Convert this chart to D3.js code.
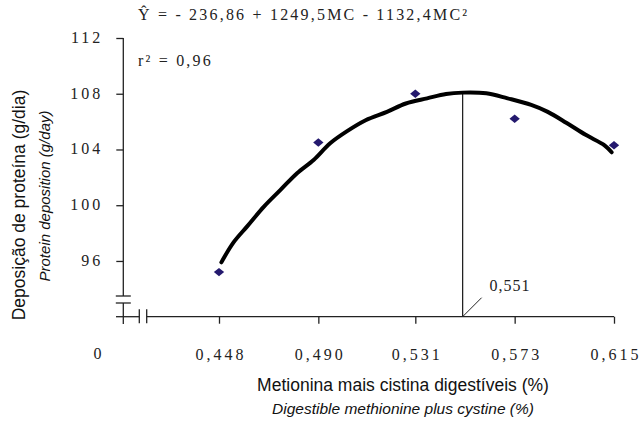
<!DOCTYPE html>
<html>
<head>
<meta charset="utf-8">
<script src="https://cdn.jsdelivr.net/npm/d3@7"></script>
<style>
  body { margin: 0; background: #fff; }
  svg { display: block; }
  .num { font-family: "Liberation Serif", serif; font-size: 16px; letter-spacing: 3px; fill: #222; }
  .ttl { font-family: "Liberation Sans", Arial, sans-serif; fill: #111; }
</style>
</head>
<body>
<div id="chart"></div>
<script>
const xTicks = [0.448, 0.490, 0.531, 0.573, 0.615]
const yTicks = [96, 100, 104, 108, 112]
const obsX = [0.448, 0.490, 0.531, 0.573, 0.615]
const obsY = [95.2, 104.5, 108.0, 106.2, 104.3]

// fitted curve
const fitX = [0.449, 0.454, 0.460, 0.467, 0.474, 0.481, 0.488, 0.495, 0.502, 0.510, 0.519, 0.527, 0.536, 0.544, 0.551, 0.561, 0.570, 0.580, 0.587, 0.595, 0.603, 0.611, 0.614]
const fitY = [95.9, 97.3, 98.5, 99.9, 101.1, 102.3, 103.25, 104.45, 105.3, 106.1, 106.7, 107.3, 107.67, 107.98, 108.08, 108.03, 107.67, 107.2, 106.7, 105.9, 105.05, 104.3, 103.8]

const optimumX = 0.551
const optimumY = 108.05
const equation = "Ŷ = - 236,86 + 1249,5MC - 1132,4MC²"
const r2Text = "r² = 0,96"

const width = 640, height = 422

const x = d3.scaleLinear().domain([0.448, 0.615]).range([219, 614])
const y = d3.scaleLinear().domain([92, 112]).range([316.7, 38])

const comma = v => String(v).replace(".", ",")
const fmt3 = v => d3.format(".3f")(v).replace(".", ",")

const svg = d3.select("#chart").append("svg")
  .attr("width", width)
  .attr("height", height)

const axisX = 123.3            // y axis position
const baseY = y(92)            // x axis position
const ink = "#222"

// y axis
const gy = svg.append("g")
  .attr("transform", `translate(${axisX},0)`)
  .call(d3.axisLeft(y).tickValues(yTicks).tickSize(7).tickPadding(16).tickFormat(d => d))
gy.select(".domain").remove()
gy.selectAll(".tick line").attr("stroke", ink).attr("stroke-width", 1.3)
gy.selectAll(".tick text").attr("class", "num").attr("dx", "3px").attr("dy", "0.28em")
  .attr("font-family", null).attr("font-size", null)

// y axis line with break
svg.append("line").attr("x1", axisX).attr("x2", axisX)
  .attr("y1", y(112)).attr("y2", baseY - 20.7)
  .attr("stroke", ink).attr("stroke-width", 1.3)
svg.append("line").attr("x1", axisX).attr("x2", axisX)
  .attr("y1", baseY - 13.7).attr("y2", baseY + 7.3)
  .attr("stroke", ink).attr("stroke-width", 1.3)
;[baseY - 20.7, baseY - 13.7].forEach(yy => {
  svg.append("line").attr("x1", axisX - 7.5).attr("x2", axisX + 7.5)
    .attr("y1", yy).attr("y2", yy)
    .attr("stroke", ink).attr("stroke-width", 1.3)
})

// x axis
const gx = svg.append("g")
  .attr("transform", `translate(0,${baseY})`)
  .call(d3.axisBottom(x).tickValues(xTicks).tickSize(7).tickPadding(25).tickFormat(fmt3))
gx.select(".domain").remove()
gx.selectAll(".tick line").attr("stroke", ink).attr("stroke-width", 1.3)
gx.selectAll(".tick text").attr("class", "num").attr("dx", "1.5px")
  .attr("font-family", null).attr("font-size", null)

// x axis line with break
const brk1 = axisX + 16, brk2 = axisX + 23.4
svg.append("line").attr("x1", axisX - 7.3).attr("x2", brk1)
  .attr("y1", baseY).attr("y2", baseY)
  .attr("stroke", ink).attr("stroke-width", 1.3)
svg.append("line").attr("x1", brk2).attr("x2", x(0.615))
  .attr("y1", baseY).attr("y2", baseY)
  .attr("stroke", ink).attr("stroke-width", 1.3)
;[brk1, brk2].forEach(xx => {
  svg.append("line").attr("x1", xx).attr("x2", xx)
    .attr("y1", baseY - 7.5).attr("y2", baseY + 6.5)
    .attr("stroke", ink).attr("stroke-width", 1.3)
})

// the "0" under the origin
svg.append("text").attr("class", "num")
  .attr("x", 99).attr("y", 359).attr("text-anchor", "middle")
  .text("0")

// optimum line and label
svg.append("line")
  .attr("x1", x(optimumX)).attr("x2", x(optimumX))
  .attr("y1", baseY).attr("y2", y(optimumY))
  .attr("stroke", ink).attr("stroke-width", 1.3)
svg.append("line")
  .attr("x1", x(optimumX)).attr("y1", baseY)
  .attr("x2", x(optimumX) + 19).attr("y2", baseY - 19)
  .attr("stroke", ink).attr("stroke-width", 1)
svg.append("text").attr("class", "num")
  .style("letter-spacing", "1px")
  .attr("x", x(optimumX) + 27).attr("y", 291)
  .text(comma(optimumX))

// fitted curve
const fit = fitX.map((v, i) => [v, fitY[i]])
svg.append("path")
  .datum(fit)
  .attr("fill", "none")
  .attr("stroke", "#000")
  .attr("stroke-width", 4)
  .attr("stroke-linecap", "round")
  .attr("d", d3.line().x(d => x(d[0])).y(d => y(d[1])).curve(d3.curveCatmullRom))

// observed points
svg.append("g")
  .selectAll("path")
  .data(obsX.map((v, i) => [v, obsY[i]]))
  .join("path")
  .attr("transform", d => `translate(${x(d[0])},${y(d[1])}) scale(1.1,0.9) rotate(45)`)
  .attr("d", d3.symbol(d3.symbolSquare, 44))
  .attr("fill", "#24196e")

// equation
svg.append("text").attr("class", "num")
  .style("font-size", "16px").style("letter-spacing", "2.2px")
  .attr("x", 138).attr("y", 20)
  .text(equation)
svg.append("text").attr("class", "num")
  .style("font-size", "16px").style("letter-spacing", "2.2px")
  .attr("x", 138).attr("y", 66)
  .text(r2Text)

// axis titles
svg.append("text").attr("class", "ttl")
  .attr("transform", "translate(25,205) rotate(-90)")
  .attr("text-anchor", "middle")
  .style("font-size", "17.5px")
  .text("Deposição de proteína (g/dia)")
svg.append("text").attr("class", "ttl")
  .attr("transform", "translate(50,196) rotate(-90)")
  .attr("text-anchor", "middle")
  .style("font-size", "15px").style("font-style", "italic")
  .text("Protein deposition (g/day)")

svg.append("text").attr("class", "ttl")
  .attr("x", 403).attr("y", 391)
  .attr("text-anchor", "middle")
  .style("font-size", "17.5px")
  .text("Metionina mais cistina digestíveis (%)")
svg.append("text").attr("class", "ttl")
  .attr("x", 403).attr("y", 414)
  .attr("text-anchor", "middle")
  .style("font-size", "15.5px").style("font-style", "italic")
  .text("Digestible methionine plus cystine (%)")
</script>
</body>
</html>
